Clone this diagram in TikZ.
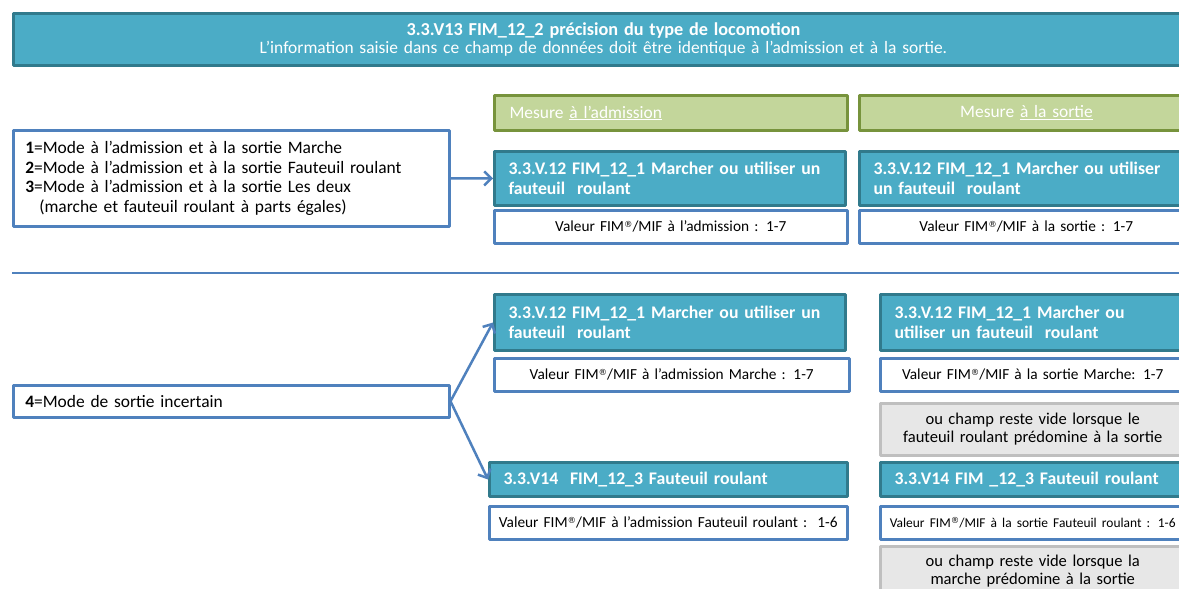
\documentclass[tikz,border=0pt]{standalone}
\usepackage{fontspec}
\setmainfont{Carlito}
\newfontfamily\regfont{DejaVu Sans}
\usepackage{tikz}
\usetikzlibrary{arrows.meta,shapes}
\definecolor{tealfill}{RGB}{75,172,198}
\definecolor{tealline}{RGB}{49,122,140}
\definecolor{greenfill}{RGB}{195,214,155}
\definecolor{greenline}{RGB}{119,147,60}
\definecolor{bluelink}{RGB}{79,129,189}
\definecolor{grayfill}{RGB}{231,231,231}
\definecolor{grayline}{RGB}{191,191,191}
\newcommand{\regmark}{\raisebox{.55ex}{\regfont\fontsize{8.5}{9}\selectfont ®}}

\tikzset{
  box/.style={draw,rectangle,anchor=north west,inner ysep=0bp,minimum height=#1},
  headbox/.style={box=52bp,fill=tealfill,draw=tealline,line width=3bp,text=white,align=center,inner xsep=0bp,font=\fontsize{17.5}{19}\selectfont},
  mesbox/.style={box=35bp,fill=greenfill,draw=greenline,line width=3bp,text=white,font=\fontsize{17.5}{19}\selectfont},
  varbox/.style={box=#1,fill=tealfill,draw=tealline,line width=3bp,text=white,align=left,inner xsep=14bp,font=\bfseries\fontsize{17.8}{20}\selectfont},
  valbox/.style={box=33bp,fill=white,draw=bluelink,line width=2.5bp,align=center,inner xsep=0bp,font=\fontsize{15.4}{18}\selectfont},
  videbox/.style={box=#1,fill=grayfill,draw=grayline,line width=2.5bp,align=center,inner xsep=0bp,font=\fontsize{16.6}{18}\selectfont},
  modebox/.style={box=#1,fill=white,draw=bluelink,line width=2.5bp,align=left,inner xsep=12bp,font=\fontsize{17.5}{19.7}\selectfont},
}

\begin{document}
\begin{tikzpicture}[>={Straight Barb[length=7bp,width=14bp]},line join=bevel]
\clip (0bp,0bp) rectangle (1179bp,-589bp);
\fill[white] (0bp,0bp) rectangle (1179bp,-589bp);
%%
\node (head) at (12bp,-12bp) [headbox,text width=1180bp] {{\bfseries\fontsize{18.3}{19}\selectfont 3.3.V13 FIM\_12\_2 précision du type de locomotion}\\L’information saisie dans ce champ de données doit être identique à l’admission et à la sortie.};
  \node (mesA) at (493bp,-94bp) [mesbox,text width=323bp,inner xsep=15bp,align=left] {Mesure \underline{à l’admission}};
  \node (mesS) at (858bp,-94bp) [mesbox,text width=304bp,inner xsep=15bp,align=center] {Mesure \underline{à la sortie}};
%
\node (mode1) at (12bp,-129bp) [modebox=96bp,text width=412bp] {\textbf{1}=Mode à l’admission et à la sortie Marche\\\textbf{2}=Mode à l’admission et à la sortie Fauteuil roulant\\\textbf{3}=Mode à l’admission et à la sortie Les deux\\\hspace{14bp}(marche et fauteuil roulant à parts égales)};
  \node (adm1) at (493bp,-150bp) [varbox=54bp,text width=323bp] {3.3.V.12 FIM\_12\_1 Marcher ou utiliser un\\fauteuil\ \ roulant};
  \node (adm1v) at (493bp,-209bp) [valbox,text width=353bp] {Valeur FIM\regmark/MIF à l’admission : 1-7};
  \node (sor1) at (858bp,-150bp) [varbox=54bp,text width=306bp] {3.3.V.12 FIM\_12\_1 Marcher ou utiliser\\un fauteuil\ \ roulant};
  \node (sor1v) at (858bp,-209bp) [valbox,text width=334bp] {Valeur FIM\regmark/MIF à la sortie : 1-7};
  \draw [->,bluelink,line width=2.5bp] (mode1.east) -- (adm1.west);
%
\coordinate (sepL) at (12bp,-273bp);
  \coordinate (sepR) at (1179bp,-273bp);
  \draw [bluelink,line width=2.5bp] (sepL) -- (sepR);
%
\node (mode4) at (12bp,-384bp) [modebox=32bp,text width=412bp] {\textbf{4}=Mode de sortie incertain};
  \node (adm2) at (493bp,-293bp) [varbox=56bp,text width=323bp] {3.3.V.12 FIM\_12\_1 Marcher ou utiliser un\\fauteuil\ \ roulant};
  \node (adm2v) at (493bp,-357bp) [valbox,text width=355bp] {Valeur FIM\regmark/MIF à l’admission Marche : 1-7};
  \node (sor2) at (879bp,-293bp) [varbox=56bp,text width=285bp] {3.3.V.12 FIM\_12\_1 Marcher ou\\utiliser un fauteuil\ \ roulant};
  \node (sor2v) at (879bp,-357bp) [valbox,text width=305bp] {Valeur FIM\regmark/MIF à la sortie Marche: 1-7};
  \node (sor2g) at (879bp,-402bp) [videbox=52bp,text width=305bp] {ou champ reste vide lorsque le\\fauteuil roulant prédomine à la sortie};
  \node (adm3) at (488bp,-461bp) [varbox=34bp,text width=330bp] {3.3.V14\ \ FIM\_12\_3 Fauteuil roulant};
  \node (adm3v) at (488bp,-505bp) [valbox,text width=358bp] {Valeur FIM\regmark/MIF à l’admission Fauteuil roulant :\ \ 1-6};
  \node (sor3) at (879bp,-461bp) [varbox=34bp,text width=285bp] {3.3.V14 FIM \_12\_3 Fauteuil roulant};
  \node (sor3v) at (879bp,-505bp) [valbox,text width=305bp] {\fontsize{13.5}{16}\selectfont Valeur FIM\regmark/MIF à la sortie Fauteuil roulant : 1-6};
  \node (sor3g) at (879bp,-545bp) [videbox=50bp,text width=305bp] {ou champ reste vide lorsque la\\marche prédomine à la sortie};
  \draw [->,bluelink,line width=2.5bp] (mode4.east) -- (adm2.west);
  \draw [->,bluelink,line width=2.5bp] (mode4.east) -- (adm3.west);
%
\end{tikzpicture}
\end{document}
